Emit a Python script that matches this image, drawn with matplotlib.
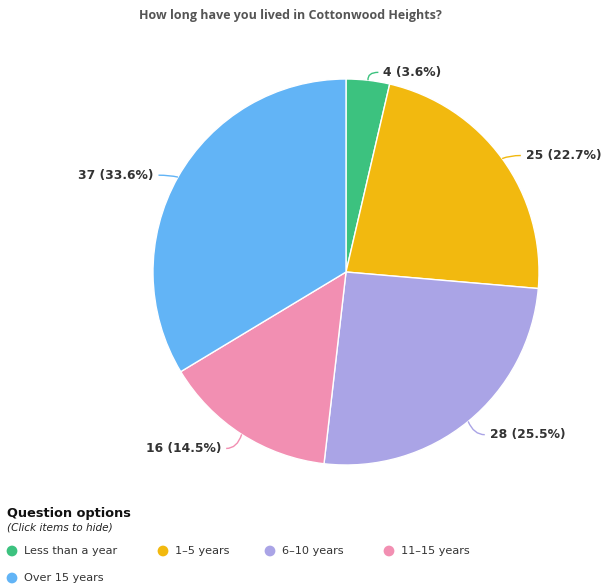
import numpy as np
import matplotlib
matplotlib.use("Agg")
import matplotlib.pyplot as plt
from matplotlib.path import Path
from matplotlib.patches import PathPatch

title = "How long have you lived in Cottonwood Heights?"
categories = ["Less than a year", "1-5 years", "6-10 years", "11-15 years", "Over 15 years"]
values = [4, 25, 28, 16, 37]
colors = ["#3CC27F", "#F2B90F", "#AAA4E6", "#F28FB2", "#62B4F6"]

W, H = 608, 588
fig = plt.figure(figsize=(W / 100, H / 100), dpi=100)
ax = fig.add_axes([0, 0, 1, 1])

cx, cy, r = 346, 272, 193
total = sum(values)

# pie drawn clockwise from the top; y axis inverted so angles are mirrored
wedges, _ = ax.pie(values, colors=colors, startangle=-90, counterclock=True,
                   center=(cx, cy), radius=r, frame=True,
                   wedgeprops=dict(edgecolor="white", linewidth=1.0))
ax.set_xlim(0, W)
ax.set_ylim(H, 0)
ax.set_aspect("equal")
ax.axis("off")

cum = 0
for v, col in zip(values, colors):
    mid = cum + v / 2
    cum += v
    ang = np.deg2rad(90 - mid / total * 360)
    ux, uy = np.cos(ang), -np.sin(ang)
    ex, ey = cx + r * ux, cy + r * uy
    rx, ry = cx + (r + 12) * ux, cy + (r + 12) * uy + 4
    sgn = 1 if ux >= 0 else -1
    tx, ty = rx + sgn * 9, ry
    path = Path([(ex, ey), (rx - sgn * 2, ry), (tx, ty)],
                [Path.MOVETO, Path.CURVE3, Path.CURVE3])
    ax.add_patch(PathPatch(path, fill=False, edgecolor=col, lw=1.0))
    pct = v / total * 100
    ax.text(tx + sgn * 5, ty, f"{v} ({pct:.1f}%)", ha="left" if sgn > 0 else "right",
            va="center", fontsize=8.9, fontweight="bold", color="#333333",
            family="DejaVu Sans")

ax.text(290, 15, title, ha="center", va="center", fontsize=9.0, fontweight="bold",
        color="#555555", family="Open Sans")

ax.text(7, 513, "Question options", ha="left", va="center", fontsize=9.3,
        fontweight="bold", color="#111111", family="DejaVu Sans")
ax.text(7, 527, "(Click items to hide)", ha="left", va="center", fontsize=7.6,
        style="italic", color="#222222", family="DejaVu Sans")

item_x = [12, 163, 270, 389, 12]
item_y = [551, 551, 551, 551, 578]
for name, col, lx, ly in zip(categories, colors, item_x, item_y):
    ax.scatter([lx], [ly], s=60, color=col, edgecolors="none")
    ax.text(lx + 12, ly, name.replace("-", "\u2013"), ha="left", va="center",
            fontsize=8.1, color="#333333", family="DejaVu Sans")

fig.savefig("out.png", dpi=100)
